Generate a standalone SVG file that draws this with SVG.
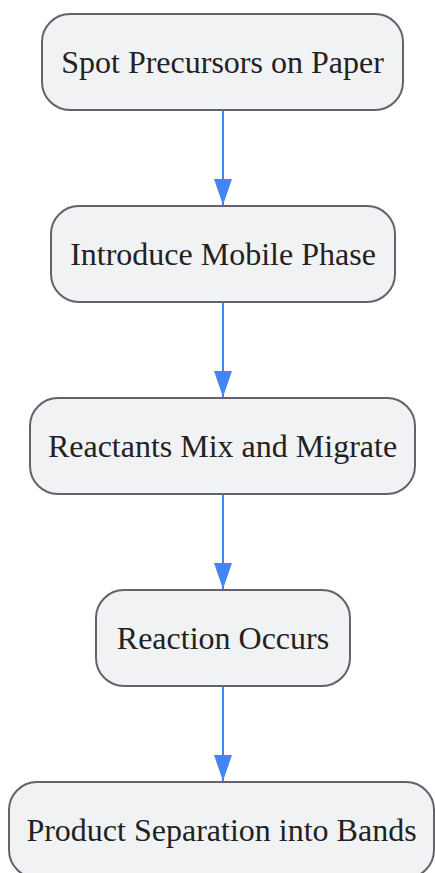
<svg xmlns="http://www.w3.org/2000/svg" width="435" height="873" viewBox="0 0 435 873">
<defs>
<style>
.node rect{fill:#f1f2f4;stroke:#62646a;stroke-width:2}
.node text{font-family:"Liberation Serif","Times New Roman",serif;font-size:32px;fill:#222;text-anchor:middle;dominant-baseline:central}
.edge{stroke:#4285f4;stroke-width:2;fill:none}
</style>
<marker id="arr" markerWidth="26" markerHeight="18" refX="26" refY="9" orient="auto" markerUnits="userSpaceOnUse" viewBox="0 0 26 18">
<path d="M0,0 L26,9 L0,18 Z" fill="#4285f4"/>
</marker>
</defs>
<rect width="435" height="873" fill="#fff"/>
<g id="connectors">
<line class="edge" x1="223" y1="110" x2="223" y2="205" marker-end="url(#arr)"/>
<line class="edge" x1="223" y1="302" x2="223" y2="397" marker-end="url(#arr)"/>
<line class="edge" x1="223" y1="494" x2="223" y2="589" marker-end="url(#arr)"/>
<line class="edge" x1="223" y1="686" x2="223" y2="781" marker-end="url(#arr)"/>
</g>
<g id="n1" class="node"><rect x="42" y="14" width="361" height="96" rx="28"/><text x="222.5" y="62">Spot Precursors on Paper</text></g>
<g id="n2" class="node"><rect x="51" y="206" width="344" height="96" rx="28"/><text x="223" y="254">Introduce Mobile Phase</text></g>
<g id="n3" class="node"><rect x="30" y="398" width="385" height="96" rx="28"/><text x="222.5" y="446">Reactants Mix and Migrate</text></g>
<g id="n4" class="node"><rect x="96" y="590" width="254" height="96" rx="28"/><text x="223" y="638">Reaction Occurs</text></g>
<g id="n5" class="node"><rect x="9" y="782" width="425" height="96" rx="28"/><text x="221.5" y="830">Product Separation into Bands</text></g>
</svg>
